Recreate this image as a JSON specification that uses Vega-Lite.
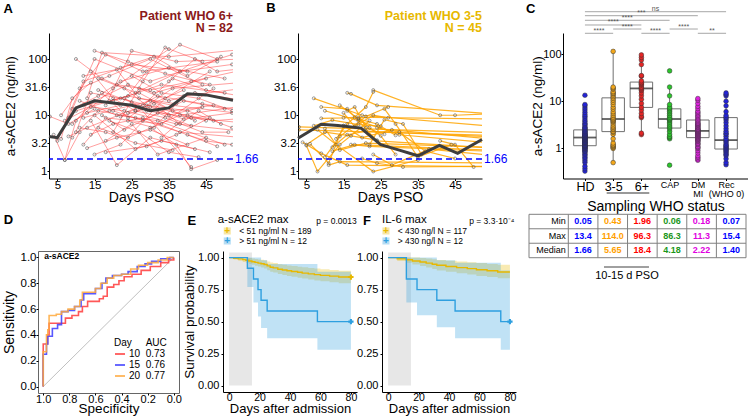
{
"$schema":"https://vega.github.io/schema/vega-lite/v6.json",
"background":"white",
"padding":{"left":1,"top":2,"right":4,"bottom":2},
"config":{"font":"Liberation Sans","view":{"stroke":null},
 "axis":{"grid":false,"domainColor":"#000","tickColor":"#000","labelColor":"#000","titleColor":"#000","titleFontWeight":"normal","labelFontSize":11.5,"titleFontSize":14,"tickSize":2,"labelPadding":0,"labelOverlap":false,"labelFlush":false,"labelFont":"Liberation Sans","titleFont":"Liberation Sans"},
 "legend":{"labelFont":"Liberation Sans","titleFont":"Liberation Sans"}},
"datasets":{
"a_pts":[
{"p":1,"d":5,"v":3.5},{"p":1,"d":12,"v":40},{"p":1,"d":25,"v":80},{"p":1,"d":40,"v":60},
{"p":2,"d":7,"v":1.6},{"p":2,"d":10,"v":8},{"p":2,"d":20,"v":30},{"p":2,"d":35,"v":150},
{"p":3,"d":8,"v":9},{"p":3,"d":15,"v":100},{"p":3,"d":30,"v":40},{"p":3,"d":52,"v":120},
{"p":4,"d":10,"v":5},{"p":4,"d":14,"v":25},{"p":4,"d":22,"v":20},{"p":4,"d":45,"v":8},
{"p":5,"d":6,"v":10},{"p":5,"d":18,"v":120},{"p":5,"d":28,"v":60},{"p":5,"d":48,"v":90},
{"p":6,"d":12,"v":15},{"p":6,"d":20,"v":18},{"p":6,"d":33,"v":35},{"p":6,"d":50,"v":25},
{"p":7,"d":9,"v":4},{"p":7,"d":16,"v":12},{"p":7,"d":26,"v":9},{"p":7,"d":38,"v":5},{"p":7,"d":55,"v":4},
{"p":8,"d":11,"v":30},{"p":8,"d":19,"v":50},{"p":8,"d":30,"v":100},{"p":8,"d":44,"v":35},
{"p":9,"d":13,"v":20},{"p":9,"d":17,"v":130},{"p":9,"d":35,"v":110},{"p":9,"d":56,"v":150},
{"p":10,"d":14,"v":8},{"p":10,"d":21,"v":1.3},{"p":10,"d":30,"v":4},{"p":10,"d":42,"v":2.5},
{"p":11,"d":15,"v":2},{"p":11,"d":22,"v":3},{"p":11,"d":34,"v":20},{"p":11,"d":46,"v":60},
{"p":12,"d":10,"v":12},{"p":12,"d":24,"v":22},{"p":12,"d":36,"v":15},{"p":12,"d":58,"v":10},
{"p":13,"d":8,"v":4.2},{"p":13,"d":13,"v":6},{"p":13,"d":27,"v":14},{"p":13,"d":41,"v":1.2},
{"p":14,"d":16,"v":45},{"p":14,"d":23,"v":30},{"p":14,"d":29,"v":15},{"p":14,"d":40,"v":12},{"p":14,"d":52,"v":6},
{"p":15,"d":12,"v":3},{"p":15,"d":18,"v":9},{"p":15,"d":33,"v":7},{"p":15,"d":47,"v":30},
{"p":16,"d":18,"v":15},{"p":16,"d":25,"v":140},{"p":16,"d":37,"v":90},{"p":16,"d":55,"v":100},
{"p":17,"d":14,"v":60},{"p":17,"d":20,"v":20},{"p":17,"d":26,"v":12},{"p":17,"d":39,"v":28},
{"p":18,"d":19,"v":8},{"p":18,"d":27,"v":5},{"p":18,"d":35,"v":2.2},{"p":18,"d":43,"v":1.8},
{"p":19,"d":9,"v":7},{"p":19,"d":15,"v":18},{"p":19,"d":24,"v":35},{"p":19,"d":31,"v":25},{"p":19,"d":45,"v":45},
{"p":20,"d":11,"v":18},{"p":20,"d":21,"v":10},{"p":20,"d":32,"v":8},{"p":20,"d":50,"v":3},
{"p":21,"d":13,"v":11},{"p":21,"d":22,"v":15},{"p":21,"d":29,"v":60},{"p":21,"d":38,"v":180},{"p":21,"d":48,"v":100},
{"p":22,"d":17,"v":25},{"p":22,"d":24,"v":9},{"p":22,"d":36,"v":30},{"p":22,"d":58,"v":40},
{"p":23,"d":20,"v":5},{"p":23,"d":28,"v":40},{"p":23,"d":34,"v":160},{"p":23,"d":44,"v":90},
{"p":24,"d":7,"v":8},{"p":24,"d":14,"v":14},{"p":24,"d":23,"v":12},{"p":24,"d":37,"v":7},{"p":24,"d":57,"v":5},
{"p":25,"d":15,"v":10},{"p":25,"d":26,"v":2.5},{"p":25,"d":33,"v":3.5},{"p":25,"d":46,"v":2.2},
{"p":26,"d":21,"v":35},{"p":26,"d":30,"v":28},{"p":26,"d":41,"v":40},{"p":26,"d":53,"v":60},
{"p":27,"d":22,"v":70},{"p":27,"d":31,"v":110},{"p":27,"d":40,"v":50},{"p":27,"d":49,"v":110},
{"p":28,"d":16,"v":6},{"p":28,"d":24,"v":4},{"p":28,"d":38,"v":10},{"p":28,"d":56,"v":15},
{"p":29,"d":12,"v":9},{"p":29,"d":19,"v":12},{"p":29,"d":30,"v":18},{"p":29,"d":42,"v":8},
{"p":30,"d":18,"v":3.5},{"p":30,"d":25,"v":7},{"p":30,"d":32,"v":2},{"p":30,"d":45,"v":4},
{"p":31,"d":23,"v":20},{"p":31,"d":29,"v":12},{"p":31,"d":41,"v":9},{"p":31,"d":58,"v":7},
{"p":32,"d":14,"v":4.5},{"p":32,"d":20,"v":7},{"p":32,"d":28,"v":9},{"p":32,"d":48,"v":2.8},
{"p":33,"d":25,"v":50},{"p":33,"d":33,"v":25},{"p":33,"d":43,"v":20},{"p":33,"d":52,"v":12},
{"p":34,"d":10,"v":100},{"p":34,"d":17,"v":45},{"p":34,"d":26,"v":25},{"p":34,"d":38,"v":60},{"p":34,"d":52,"v":80},
{"p":35,"d":19,"v":18},{"p":35,"d":27,"v":25},{"p":35,"d":36,"v":12},{"p":35,"d":47,"v":15},
{"p":36,"d":24,"v":8},{"p":36,"d":31,"v":6},{"p":36,"d":39,"v":22},{"p":36,"d":55,"v":30},
{"p":37,"d":26,"v":12},{"p":37,"d":34,"v":9},{"p":37,"d":44,"v":5},{"p":37,"d":51,"v":5},
{"p":38,"d":13,"v":2.6},{"p":38,"d":21,"v":4},{"p":38,"d":30,"v":5.5},{"p":38,"d":40,"v":3},
{"p":39,"d":28,"v":15},{"p":39,"d":36,"v":45},{"p":39,"d":45,"v":28},{"p":39,"d":58,"v":20},
{"p":40,"d":30,"v":6},{"p":40,"d":37,"v":3},{"p":40,"d":41,"v":1.1},{"p":40,"d":48,"v":1.6},
{"p":41,"d":17,"v":10},{"p":41,"d":23,"v":5.5},{"p":41,"d":32,"v":11},{"p":41,"d":41,"v":6.5},
{"p":42,"d":9,"v":13},{"p":42,"d":16,"v":22},{"p":42,"d":22,"v":40},{"p":42,"d":35,"v":70},{"p":42,"d":50,"v":45},
{"p":43,"d":20,"v":12},{"p":43,"d":28,"v":8},{"p":43,"d":39,"v":18},{"p":43,"d":50,"v":13},
{"p":44,"d":27,"v":30},{"p":44,"d":35,"v":18},{"p":44,"d":42,"v":25},{"p":44,"d":56,"v":18},
{"p":45,"d":33,"v":4},{"p":45,"d":40,"v":10},{"p":45,"d":47,"v":8},{"p":45,"d":57,"v":9},
{"p":46,"d":15,"v":140},{"p":46,"d":24,"v":90},{"p":46,"d":34,"v":55},{"p":46,"d":46,"v":35},
{"p":47,"d":11,"v":6},{"p":47,"d":18,"v":5},{"p":47,"d":26,"v":3.2},{"p":47,"d":36,"v":2.4},
{"p":48,"d":22,"v":9.5},{"p":48,"d":30,"v":14},{"p":48,"d":39,"v":8.5},{"p":48,"d":52,"v":11},
{"p":49,"d":31,"v":16},{"p":49,"d":38,"v":7},{"p":49,"d":43,"v":12},{"p":49,"d":49,"v":7},
{"p":50,"d":16,"v":28},{"p":50,"d":25,"v":17},{"p":50,"d":35,"v":10},{"p":50,"d":44,"v":14},
{"p":51,"d":35,"v":40},{"p":51,"d":42,"v":100},{"p":51,"d":48,"v":60},{"p":51,"d":57,"v":70},
{"p":52,"d":40,"v":4.5},{"p":52,"d":45,"v":3.5},{"p":52,"d":52,"v":3},
{"p":53,"d":12,"v":50},{"p":53,"d":21,"v":65},{"p":53,"d":27,"v":20},{"p":53,"d":37,"v":16},
{"p":54,"d":18,"v":2.2},{"p":54,"d":29,"v":2.8},{"p":54,"d":37,"v":4.5},{"p":54,"d":46,"v":9},
{"p":55,"d":24,"v":11},{"p":55,"d":32,"v":22},{"p":55,"d":44,"v":16},{"p":55,"d":55,"v":12},
{"p":56,"d":3,"v":9.5},{"p":56,"d":8,"v":7},{"p":56,"d":15,"v":13},
{"p":57,"d":4,"v":4.5},{"p":57,"d":7,"v":1.6},{"p":57,"d":11,"v":5},
{"p":58,"d":6,"v":3.8},{"p":58,"d":9,"v":20},{"p":58,"d":14,"v":38}
],
"a_med":[{"d":2.75,"v":4.2},{"d":5,"v":4.0},{"d":10,"v":13.5},{"d":15,"v":18},{"d":20,"v":16.5},{"d":25,"v":15},{"d":30,"v":12},{"d":35,"v":13.5},{"d":40,"v":24},{"d":45,"v":23},{"d":52.25,"v":18.5}],
"b_pts":[
{"p":1,"d":3,"v":5.5},{"p":1,"d":60,"v":4.3},
{"p":2,"d":3,"v":6.2},{"p":2,"d":60,"v":4.8},
{"p":3,"d":7,"v":20},{"p":3,"d":20,"v":10},{"p":3,"d":60,"v":6},
{"p":4,"d":9,"v":14},{"p":4,"d":16,"v":13},{"p":4,"d":24,"v":3.5},{"p":4,"d":60,"v":2.5},
{"p":5,"d":10,"v":12},{"p":5,"d":19,"v":8},{"p":5,"d":30,"v":4.5},{"p":5,"d":60,"v":3},
{"p":6,"d":4,"v":3.3},{"p":6,"d":9,"v":2.1},{"p":6,"d":16,"v":1.3},{"p":6,"d":60,"v":1.2},
{"p":7,"d":5,"v":2.9},{"p":7,"d":8,"v":1.0},{"p":7,"d":14,"v":3},{"p":7,"d":22,"v":8},
{"p":8,"d":6,"v":3.1},{"p":8,"d":11,"v":1.4},{"p":8,"d":15,"v":6.5},
{"p":9,"d":8,"v":5.5},{"p":9,"d":13,"v":3},{"p":9,"d":23,"v":1.0},{"p":9,"d":35,"v":1.6},
{"p":10,"d":10,"v":1.8},{"p":10,"d":14,"v":4.2},{"p":10,"d":21,"v":9.5},{"p":10,"d":27,"v":14},
{"p":11,"d":12,"v":2.3},{"p":11,"d":18,"v":3},{"p":11,"d":60,"v":2.3},
{"p":12,"d":9,"v":8.8},{"p":12,"d":15,"v":9},{"p":12,"d":18,"v":9.2},{"p":12,"d":60,"v":8.5},
{"p":13,"d":16,"v":25},{"p":13,"d":17,"v":24},{"p":13,"d":24,"v":15},{"p":13,"d":60,"v":10},
{"p":14,"d":15,"v":6.5},{"p":14,"d":20,"v":4},{"p":14,"d":28,"v":5.5},{"p":14,"d":60,"v":3.5},
{"p":15,"d":14,"v":15},{"p":15,"d":19,"v":8.6},{"p":15,"d":24,"v":7},{"p":15,"d":29,"v":4.4},
{"p":16,"d":13,"v":3.8},{"p":16,"d":16,"v":7},{"p":16,"d":21,"v":14},{"p":16,"d":23,"v":26},
{"p":17,"d":11,"v":1.3},{"p":17,"d":14,"v":1.5},{"p":17,"d":60,"v":1.4},
{"p":18,"d":16,"v":12},{"p":18,"d":18,"v":14},{"p":18,"d":21,"v":6},{"p":18,"d":26,"v":4.6},
{"p":19,"d":19,"v":9},{"p":19,"d":22,"v":6},{"p":19,"d":25,"v":4.3},{"p":19,"d":29,"v":2},
{"p":20,"d":22,"v":3},{"p":20,"d":26,"v":8.3},{"p":20,"d":31,"v":7},{"p":20,"d":36,"v":2},
{"p":21,"d":23,"v":2},{"p":21,"d":28,"v":1.3},{"p":21,"d":38,"v":2.5},{"p":21,"d":60,"v":1.8},
{"p":22,"d":20,"v":1.7},{"p":22,"d":24,"v":1.4},{"p":22,"d":31,"v":1.2},{"p":22,"d":60,"v":1.25},
{"p":23,"d":17,"v":3},{"p":23,"d":22,"v":2.8},{"p":23,"d":60,"v":2.2},
{"p":24,"d":12,"v":2.7},{"p":24,"d":16,"v":4.5},{"p":24,"d":21,"v":5.2},{"p":24,"d":60,"v":4},
{"p":25,"d":15,"v":11},{"p":25,"d":18,"v":6.3},{"p":25,"d":23,"v":10},{"p":25,"d":27,"v":9},
{"p":26,"d":23,"v":28},{"p":26,"d":41,"v":10},{"p":26,"d":45,"v":10},{"p":26,"d":60,"v":11},
{"p":27,"d":5,"v":3},{"p":27,"d":10,"v":5},{"p":27,"d":17,"v":4.3},{"p":27,"d":24,"v":3.6},
{"p":28,"d":7,"v":6.5},{"p":28,"d":12,"v":8.2},{"p":28,"d":19,"v":6.8},{"p":28,"d":25,"v":6.4},
{"p":29,"d":24,"v":6},{"p":29,"d":30,"v":5},{"p":29,"d":37,"v":2.3},{"p":29,"d":45,"v":1.7},
{"p":30,"d":10,"v":5.8},{"p":30,"d":14,"v":2.4},{"p":30,"d":21,"v":3.2},{"p":30,"d":60,"v":2.6},
{"p":31,"d":41,"v":3.5},{"p":31,"d":45,"v":3},{"p":31,"d":50,"v":1.2},
{"p":32,"d":26,"v":13},{"p":32,"d":29,"v":7},{"p":32,"d":35,"v":1.8},{"p":32,"d":44,"v":3}
],
"b_med":[{"d":2.75,"v":3.9},{"d":9,"v":6.9},{"d":13.5,"v":6.6},{"d":19.7,"v":5.9},{"d":25,"v":3.0},{"d":30,"v":2.4},{"d":35,"v":1.9},{"d":40.8,"v":2.9},{"d":45.7,"v":2.1},{"d":52.25,"v":3.7}],
"c_box":[{"g":"HD","gi":0,"lw":0.33,"q1":1.14,"med":1.7,"q3":2.47,"uw":8.5},{"g":"3-5","gi":1,"lw":0.5,"q1":2.27,"med":4.2,"q3":11.8,"uw":114},{"g":"6+","gi":2,"lw":1.96,"q1":7.4,"med":18.7,"q3":25.5,"uw":96},{"g":"CAP","gi":3,"lw":1.6,"q1":2.7,"med":4.2,"q3":6.9,"uw":20},{"g":"DM","gi":4,"lw":0.56,"q1":1.69,"med":2.35,"q3":4.0,"uw":11.4},{"g":"Rec","gi":5,"lw":0.45,"q1":0.97,"med":1.5,"q3":4.5,"uw":15}],
"c_br":[{"a":0,"b":5,"m":2.5,"lv":792,"t":"ns"},{"a":0,"b":4,"m":2,"lv":652,"t":"***"},{"a":0,"b":3,"m":1.5,"lv":521,"t":"****"},{"a":0,"b":2,"m":1,"lv":414,"t":"****"},{"a":1,"b":2,"m":1.5,"lv":340,"t":"****"},{"a":3,"b":4,"m":3.5,"lv":340,"t":"****"},{"a":0,"b":1,"m":0.5,"lv":276,"t":"****"},{"a":2,"b":3,"m":2.5,"lv":276,"t":"****"},{"a":4,"b":5,"m":4.5,"lv":276,"t":"**"}],
"c_pts":[
{"g":"HD","gi":0,"v":0.33,"j":-0.2},{"g":"HD","gi":0,"v":0.37,"j":0.25},{"g":"HD","gi":0,"v":0.42,"j":-0.35},{"g":"HD","gi":0,"v":0.5,"j":0.1},{"g":"HD","gi":0,"v":0.55,"j":0.38},{"g":"HD","gi":0,"v":0.6,"j":-0.1},{"g":"HD","gi":0,"v":0.65,"j":0.2},{"g":"HD","gi":0,"v":0.7,"j":-0.3},{"g":"HD","gi":0,"v":0.75,"j":0.42},{"g":"HD","gi":0,"v":0.8,"j":0.0},{"g":"HD","gi":0,"v":0.85,"j":-0.42},{"g":"HD","gi":0,"v":0.88,"j":0.3},{"g":"HD","gi":0,"v":0.9,"j":0.15},{"g":"HD","gi":0,"v":0.95,"j":-0.25},{"g":"HD","gi":0,"v":0.98,"j":0.35},{"g":"HD","gi":0,"v":1.0,"j":-0.05},{"g":"HD","gi":0,"v":1.02,"j":0.22},{"g":"HD","gi":0,"v":1.05,"j":-0.38},{"g":"HD","gi":0,"v":1.08,"j":0.08},{"g":"HD","gi":0,"v":1.1,"j":0.4},{"g":"HD","gi":0,"v":1.12,"j":-0.18},{"g":"HD","gi":0,"v":1.15,"j":0.28},{"g":"HD","gi":0,"v":1.15,"j":-0.3},{"g":"HD","gi":0,"v":1.18,"j":0.02},{"g":"HD","gi":0,"v":1.2,"j":0.33},{"g":"HD","gi":0,"v":1.25,"j":-0.12},{"g":"HD","gi":0,"v":1.28,"j":0.18},{"g":"HD","gi":0,"v":1.3,"j":-0.44},{"g":"HD","gi":0,"v":1.33,"j":0.12},{"g":"HD","gi":0,"v":1.35,"j":0.4},{"g":"HD","gi":0,"v":1.38,"j":-0.22},{"g":"HD","gi":0,"v":1.4,"j":0.05},{"g":"HD","gi":0,"v":1.45,"j":-0.34},{"g":"HD","gi":0,"v":1.48,"j":0.26},{"g":"HD","gi":0,"v":1.5,"j":-0.08},{"g":"HD","gi":0,"v":1.55,"j":0.36},{"g":"HD","gi":0,"v":1.58,"j":-0.28},{"g":"HD","gi":0,"v":1.6,"j":0.14},{"g":"HD","gi":0,"v":1.62,"j":-0.4},{"g":"HD","gi":0,"v":1.66,"j":0.3},{"g":"HD","gi":0,"v":1.7,"j":-0.15},{"g":"HD","gi":0,"v":1.72,"j":0.04},{"g":"HD","gi":0,"v":1.75,"j":0.43},{"g":"HD","gi":0,"v":1.8,"j":-0.26},{"g":"HD","gi":0,"v":1.82,"j":0.2},{"g":"HD","gi":0,"v":1.85,"j":-0.06},{"g":"HD","gi":0,"v":1.9,"j":0.34},{"g":"HD","gi":0,"v":1.92,"j":-0.36},{"g":"HD","gi":0,"v":1.95,"j":0.1},{"g":"HD","gi":0,"v":2.0,"j":-0.2},{"g":"HD","gi":0,"v":2.05,"j":0.27},{"g":"HD","gi":0,"v":2.1,"j":-0.42},{"g":"HD","gi":0,"v":2.2,"j":0.16},{"g":"HD","gi":0,"v":2.25,"j":-0.1},{"g":"HD","gi":0,"v":2.3,"j":0.38},{"g":"HD","gi":0,"v":2.4,"j":-0.3},{"g":"HD","gi":0,"v":2.5,"j":0.06},{"g":"HD","gi":0,"v":2.6,"j":0.3},{"g":"HD","gi":0,"v":2.7,"j":-0.16},{"g":"HD","gi":0,"v":2.8,"j":0.22},{"g":"HD","gi":0,"v":3.0,"j":-0.38},{"g":"HD","gi":0,"v":3.2,"j":0.12},{"g":"HD","gi":0,"v":3.4,"j":-0.02},{"g":"HD","gi":0,"v":3.7,"j":0.35},{"g":"HD","gi":0,"v":4.0,"j":-0.24},{"g":"HD","gi":0,"v":4.4,"j":0.18},{"g":"HD","gi":0,"v":4.8,"j":-0.4},{"g":"HD","gi":0,"v":5.2,"j":0.02},{"g":"HD","gi":0,"v":5.8,"j":0.3},{"g":"HD","gi":0,"v":6.5,"j":-0.2},{"g":"HD","gi":0,"v":7.2,"j":0.1},{"g":"HD","gi":0,"v":8.0,"j":-0.33},{"g":"HD","gi":0,"v":8.5,"j":0.25},{"g":"HD","gi":0,"v":13.4,"j":0.3},
{"g":"3-5","gi":1,"v":0.5,"j":-0.05},{"g":"3-5","gi":1,"v":1.0,"j":0.25},{"g":"3-5","gi":1,"v":1.05,"j":0.3},{"g":"3-5","gi":1,"v":1.1,"j":0.1},{"g":"3-5","gi":1,"v":1.15,"j":-0.2},{"g":"3-5","gi":1,"v":1.2,"j":0.28},{"g":"3-5","gi":1,"v":1.3,"j":-0.1},{"g":"3-5","gi":1,"v":1.6,"j":0.15},{"g":"3-5","gi":1,"v":2.0,"j":-0.28},{"g":"3-5","gi":1,"v":2.2,"j":0.05},{"g":"3-5","gi":1,"v":2.3,"j":0.2},{"g":"3-5","gi":1,"v":2.5,"j":-0.15},{"g":"3-5","gi":1,"v":2.6,"j":0.3},{"g":"3-5","gi":1,"v":2.8,"j":-0.05},{"g":"3-5","gi":1,"v":3.0,"j":0.12},{"g":"3-5","gi":1,"v":3.3,"j":-0.25},{"g":"3-5","gi":1,"v":3.6,"j":0.22},{"g":"3-5","gi":1,"v":3.8,"j":-0.12},{"g":"3-5","gi":1,"v":3.9,"j":0.05},{"g":"3-5","gi":1,"v":4.1,"j":-0.3},{"g":"3-5","gi":1,"v":4.3,"j":0.18},{"g":"3-5","gi":1,"v":4.6,"j":-0.05},{"g":"3-5","gi":1,"v":5.0,"j":0.28},{"g":"3-5","gi":1,"v":5.5,"j":-0.22},{"g":"3-5","gi":1,"v":6.0,"j":0.1},{"g":"3-5","gi":1,"v":6.8,"j":-0.15},{"g":"3-5","gi":1,"v":7.5,"j":0.3},{"g":"3-5","gi":1,"v":8.5,"j":-0.3},{"g":"3-5","gi":1,"v":9.5,"j":0.08},{"g":"3-5","gi":1,"v":10.5,"j":-0.12},{"g":"3-5","gi":1,"v":11.5,"j":0.25},{"g":"3-5","gi":1,"v":12.5,"j":-0.25},{"g":"3-5","gi":1,"v":13.5,"j":0.02},{"g":"3-5","gi":1,"v":14.5,"j":0.2},{"g":"3-5","gi":1,"v":15,"j":-0.18},{"g":"3-5","gi":1,"v":16,"j":0.12},{"g":"3-5","gi":1,"v":18,"j":-0.08},{"g":"3-5","gi":1,"v":19,"j":0.22},{"g":"3-5","gi":1,"v":20,"j":-0.28},{"g":"3-5","gi":1,"v":114,"j":0.2},
{"g":"6+","gi":2,"v":1.96,"j":-0.05},{"g":"6+","gi":2,"v":2.1,"j":-0.1},{"g":"6+","gi":2,"v":4.5,"j":-0.25},{"g":"6+","gi":2,"v":4.8,"j":0.05},{"g":"6+","gi":2,"v":5.5,"j":0.22},{"g":"6+","gi":2,"v":6.5,"j":-0.15},{"g":"6+","gi":2,"v":7.5,"j":0.28},{"g":"6+","gi":2,"v":9,"j":-0.2},{"g":"6+","gi":2,"v":11,"j":0.15},{"g":"6+","gi":2,"v":13,"j":-0.3},{"g":"6+","gi":2,"v":15,"j":0.1},{"g":"6+","gi":2,"v":17,"j":-0.08},{"g":"6+","gi":2,"v":18,"j":0.25},{"g":"6+","gi":2,"v":19,"j":-0.22},{"g":"6+","gi":2,"v":20,"j":0.05},{"g":"6+","gi":2,"v":22,"j":0.3},{"g":"6+","gi":2,"v":23,"j":-0.12},{"g":"6+","gi":2,"v":24,"j":0.15},{"g":"6+","gi":2,"v":25,"j":-0.28},{"g":"6+","gi":2,"v":27,"j":0.2},{"g":"6+","gi":2,"v":34,"j":0.08},{"g":"6+","gi":2,"v":35,"j":0.18},{"g":"6+","gi":2,"v":60,"j":0.25},{"g":"6+","gi":2,"v":75,"j":-0.2},{"g":"6+","gi":2,"v":85,"j":-0.28},{"g":"6+","gi":2,"v":96,"j":-0.1},
{"g":"CAP","gi":3,"v":0.44,"j":-0.05},{"g":"CAP","gi":3,"v":1.6,"j":-0.25},{"g":"CAP","gi":3,"v":1.7,"j":0.2},{"g":"CAP","gi":3,"v":1.8,"j":-0.1},{"g":"CAP","gi":3,"v":2.0,"j":0.28},{"g":"CAP","gi":3,"v":2.3,"j":-0.2},{"g":"CAP","gi":3,"v":2.6,"j":0.1},{"g":"CAP","gi":3,"v":2.8,"j":-0.3},{"g":"CAP","gi":3,"v":3.0,"j":0.15},{"g":"CAP","gi":3,"v":3.3,"j":-0.05},{"g":"CAP","gi":3,"v":3.6,"j":0.25},{"g":"CAP","gi":3,"v":3.9,"j":-0.18},{"g":"CAP","gi":3,"v":4.1,"j":0.05},{"g":"CAP","gi":3,"v":4.3,"j":-0.28},{"g":"CAP","gi":3,"v":4.6,"j":0.2},{"g":"CAP","gi":3,"v":5.0,"j":-0.1},{"g":"CAP","gi":3,"v":5.5,"j":0.3},{"g":"CAP","gi":3,"v":6.0,"j":-0.22},{"g":"CAP","gi":3,"v":6.5,"j":0.12},{"g":"CAP","gi":3,"v":7.0,"j":-0.05},{"g":"CAP","gi":3,"v":7.5,"j":0.25},{"g":"CAP","gi":3,"v":8.5,"j":-0.15},{"g":"CAP","gi":3,"v":13,"j":0.1},{"g":"CAP","gi":3,"v":20,"j":-0.2},{"g":"CAP","gi":3,"v":44,"j":-0.1},
{"g":"DM","gi":4,"v":0.56,"j":-0.1},{"g":"DM","gi":4,"v":0.6,"j":0.2},{"g":"DM","gi":4,"v":0.65,"j":0.1},{"g":"DM","gi":4,"v":0.7,"j":-0.25},{"g":"DM","gi":4,"v":0.8,"j":0.05},{"g":"DM","gi":4,"v":0.9,"j":0.3},{"g":"DM","gi":4,"v":1.0,"j":-0.15},{"g":"DM","gi":4,"v":1.05,"j":-0.02},{"g":"DM","gi":4,"v":1.1,"j":0.12},{"g":"DM","gi":4,"v":1.2,"j":-0.3},{"g":"DM","gi":4,"v":1.25,"j":0.0},{"g":"DM","gi":4,"v":1.3,"j":0.25},{"g":"DM","gi":4,"v":1.4,"j":-0.05},{"g":"DM","gi":4,"v":1.45,"j":-0.32},{"g":"DM","gi":4,"v":1.5,"j":0.18},{"g":"DM","gi":4,"v":1.55,"j":-0.22},{"g":"DM","gi":4,"v":1.6,"j":0.08},{"g":"DM","gi":4,"v":1.65,"j":0.3},{"g":"DM","gi":4,"v":1.7,"j":-0.12},{"g":"DM","gi":4,"v":1.75,"j":0.02},{"g":"DM","gi":4,"v":1.8,"j":-0.28},{"g":"DM","gi":4,"v":1.85,"j":0.22},{"g":"DM","gi":4,"v":1.9,"j":-0.08},{"g":"DM","gi":4,"v":1.95,"j":0.14},{"g":"DM","gi":4,"v":2.0,"j":-0.2},{"g":"DM","gi":4,"v":2.05,"j":0.28},{"g":"DM","gi":4,"v":2.1,"j":-0.02},{"g":"DM","gi":4,"v":2.15,"j":0.1},{"g":"DM","gi":4,"v":2.2,"j":-0.3},{"g":"DM","gi":4,"v":2.25,"j":0.2},{"g":"DM","gi":4,"v":2.3,"j":-0.14},{"g":"DM","gi":4,"v":2.35,"j":0.04},{"g":"DM","gi":4,"v":2.4,"j":0.3},{"g":"DM","gi":4,"v":2.45,"j":-0.24},{"g":"DM","gi":4,"v":2.5,"j":0.12},{"g":"DM","gi":4,"v":2.55,"j":0.32},{"g":"DM","gi":4,"v":2.6,"j":-0.08},{"g":"DM","gi":4,"v":2.7,"j":0.24},{"g":"DM","gi":4,"v":2.8,"j":-0.3},{"g":"DM","gi":4,"v":2.9,"j":0.06},{"g":"DM","gi":4,"v":3.0,"j":-0.16},{"g":"DM","gi":4,"v":3.1,"j":0.18},{"g":"DM","gi":4,"v":3.2,"j":-0.04},{"g":"DM","gi":4,"v":3.3,"j":0.3},{"g":"DM","gi":4,"v":3.4,"j":0.0},{"g":"DM","gi":4,"v":3.5,"j":-0.22},{"g":"DM","gi":4,"v":3.7,"j":0.1},{"g":"DM","gi":4,"v":3.9,"j":-0.1},{"g":"DM","gi":4,"v":4.1,"j":0.26},{"g":"DM","gi":4,"v":4.4,"j":-0.28},{"g":"DM","gi":4,"v":4.7,"j":0.0},{"g":"DM","gi":4,"v":5.0,"j":0.2},{"g":"DM","gi":4,"v":5.4,"j":-0.18},{"g":"DM","gi":4,"v":5.8,"j":0.12},{"g":"DM","gi":4,"v":6.2,"j":-0.06},{"g":"DM","gi":4,"v":7.0,"j":0.28},{"g":"DM","gi":4,"v":7.8,"j":-0.24},{"g":"DM","gi":4,"v":9.0,"j":0.1},{"g":"DM","gi":4,"v":10.5,"j":-0.1},{"g":"DM","gi":4,"v":11.4,"j":0.05},
{"g":"Rec","gi":5,"v":0.45,"j":-0.05},{"g":"Rec","gi":5,"v":0.5,"j":0.15},{"g":"Rec","gi":5,"v":0.6,"j":-0.2},{"g":"Rec","gi":5,"v":0.7,"j":0.25},{"g":"Rec","gi":5,"v":0.75,"j":0.0},{"g":"Rec","gi":5,"v":0.8,"j":-0.12},{"g":"Rec","gi":5,"v":0.85,"j":0.05},{"g":"Rec","gi":5,"v":0.9,"j":-0.28},{"g":"Rec","gi":5,"v":0.95,"j":0.2},{"g":"Rec","gi":5,"v":1.0,"j":-0.05},{"g":"Rec","gi":5,"v":1.05,"j":0.3},{"g":"Rec","gi":5,"v":1.1,"j":-0.18},{"g":"Rec","gi":5,"v":1.15,"j":0.3},{"g":"Rec","gi":5,"v":1.2,"j":0.1},{"g":"Rec","gi":5,"v":1.3,"j":-0.3},{"g":"Rec","gi":5,"v":1.4,"j":0.22},{"g":"Rec","gi":5,"v":1.5,"j":-0.08},{"g":"Rec","gi":5,"v":1.6,"j":0.15},{"g":"Rec","gi":5,"v":1.8,"j":-0.22},{"g":"Rec","gi":5,"v":2.0,"j":0.05},{"g":"Rec","gi":5,"v":2.1,"j":-0.3},{"g":"Rec","gi":5,"v":2.3,"j":0.28},{"g":"Rec","gi":5,"v":2.6,"j":-0.15},{"g":"Rec","gi":5,"v":3.0,"j":0.12},{"g":"Rec","gi":5,"v":3.5,"j":-0.28},{"g":"Rec","gi":5,"v":4.0,"j":0.2},{"g":"Rec","gi":5,"v":4.4,"j":-0.1},{"g":"Rec","gi":5,"v":4.6,"j":0.3},{"g":"Rec","gi":5,"v":5.0,"j":-0.2},{"g":"Rec","gi":5,"v":6.0,"j":0.08},{"g":"Rec","gi":5,"v":8.0,"j":-0.25},{"g":"Rec","gi":5,"v":10,"j":0.22},{"g":"Rec","gi":5,"v":13,"j":-0.15},{"g":"Rec","gi":5,"v":14,"j":0.1},{"g":"Rec","gi":5,"v":15,"j":0.25}
],
"roc":[
{"day":"10","spec":1,"sens":0},{"day":"10","spec":0.967,"sens":0.33},{"day":"10","spec":0.955,"sens":0.40},{"day":"10","spec":0.83,"sens":0.49},{"day":"10","spec":0.78,"sens":0.53},{"day":"10","spec":0.73,"sens":0.55},{"day":"10","spec":0.70,"sens":0.58},{"day":"10","spec":0.66,"sens":0.62},{"day":"10","spec":0.57,"sens":0.66},{"day":"10","spec":0.54,"sens":0.68},{"day":"10","spec":0.51,"sens":0.70},{"day":"10","spec":0.46,"sens":0.77},{"day":"10","spec":0.42,"sens":0.79},{"day":"10","spec":0.38,"sens":0.82},{"day":"10","spec":0.32,"sens":0.85},{"day":"10","spec":0.25,"sens":0.87},{"day":"10","spec":0.18,"sens":0.90},{"day":"10","spec":0.10,"sens":0.93},{"day":"10","spec":0.04,"sens":0.96},{"day":"10","spec":0,"sens":0.98},{"day":"10","spec":0,"sens":1},
{"day":"15","spec":1,"sens":0},{"day":"15","spec":0.975,"sens":0.25},{"day":"15","spec":0.965,"sens":0.33},{"day":"15","spec":0.93,"sens":0.39},{"day":"15","spec":0.89,"sens":0.45},{"day":"15","spec":0.86,"sens":0.48},{"day":"15","spec":0.81,"sens":0.58},{"day":"15","spec":0.76,"sens":0.59},{"day":"15","spec":0.71,"sens":0.62},{"day":"15","spec":0.69,"sens":0.67},{"day":"15","spec":0.60,"sens":0.72},{"day":"15","spec":0.55,"sens":0.76},{"day":"15","spec":0.52,"sens":0.80},{"day":"15","spec":0.47,"sens":0.84},{"day":"15","spec":0.40,"sens":0.86},{"day":"15","spec":0.35,"sens":0.87},{"day":"15","spec":0.28,"sens":0.89},{"day":"15","spec":0.22,"sens":0.93},{"day":"15","spec":0.17,"sens":0.95},{"day":"15","spec":0.10,"sens":0.97},{"day":"15","spec":0.03,"sens":0.99},{"day":"15","spec":0,"sens":1},
{"day":"20","spec":1,"sens":0},{"day":"20","spec":0.975,"sens":0.27},{"day":"20","spec":0.965,"sens":0.40},{"day":"20","spec":0.955,"sens":0.44},{"day":"20","spec":0.90,"sens":0.55},{"day":"20","spec":0.86,"sens":0.56},{"day":"20","spec":0.81,"sens":0.58},{"day":"20","spec":0.76,"sens":0.60},{"day":"20","spec":0.72,"sens":0.62},{"day":"20","spec":0.70,"sens":0.67},{"day":"20","spec":0.60,"sens":0.73},{"day":"20","spec":0.56,"sens":0.76},{"day":"20","spec":0.51,"sens":0.80},{"day":"20","spec":0.46,"sens":0.84},{"day":"20","spec":0.40,"sens":0.86},{"day":"20","spec":0.33,"sens":0.87},{"day":"20","spec":0.27,"sens":0.91},{"day":"20","spec":0.20,"sens":0.94},{"day":"20","spec":0.12,"sens":0.96},{"day":"20","spec":0.05,"sens":0.98},{"day":"20","spec":0,"sens":1}
],
"e_y":[{"d":0,"s":1,"lo":1,"hi":1},{"d":3,"s":0.995,"lo":0.985,"hi":1},{"d":6,"s":0.99,"lo":0.976,"hi":1},{"d":9,"s":0.984,"lo":0.966,"hi":1},{"d":11,"s":0.979,"lo":0.959,"hi":0.998},{"d":13,"s":0.974,"lo":0.952,"hi":0.996},{"d":15,"s":0.968,"lo":0.944,"hi":0.993},{"d":17,"s":0.963,"lo":0.937,"hi":0.99},{"d":19,"s":0.957,"lo":0.93,"hi":0.986},{"d":21,"s":0.952,"lo":0.922,"hi":0.983},{"d":23,"s":0.946,"lo":0.915,"hi":0.979},{"d":25,"s":0.935,"lo":0.902,"hi":0.97},{"d":27,"s":0.925,"lo":0.89,"hi":0.962},{"d":29,"s":0.92,"lo":0.884,"hi":0.958},{"d":32,"s":0.909,"lo":0.871,"hi":0.949},{"d":35,"s":0.903,"lo":0.864,"hi":0.944},{"d":38,"s":0.897,"lo":0.857,"hi":0.939},{"d":41,"s":0.891,"lo":0.85,"hi":0.934},{"d":45,"s":0.885,"lo":0.843,"hi":0.929},{"d":48,"s":0.879,"lo":0.836,"hi":0.924},{"d":52,"s":0.873,"lo":0.829,"hi":0.919},{"d":56,"s":0.867,"lo":0.822,"hi":0.914},{"d":60,"s":0.861,"lo":0.815,"hi":0.909},{"d":66,"s":0.855,"lo":0.808,"hi":0.904},{"d":72,"s":0.848,"lo":0.8,"hi":0.898},{"d":80,"s":0.848,"lo":0.8,"hi":0.898}],
"e_b":[{"d":0,"s":1,"lo":1,"hi":1},{"d":12,"s":0.917,"lo":0.77,"hi":1},{"d":16,"s":0.833,"lo":0.65,"hi":1},{"d":19,"s":0.75,"lo":0.54,"hi":1},{"d":21,"s":0.667,"lo":0.45,"hi":0.98},{"d":25,"s":0.583,"lo":0.37,"hi":0.95},{"d":58,"s":0.5,"lo":0.28,"hi":0.89},{"d":80,"s":0.5,"lo":0.28,"hi":0.89}],
"f_y":[{"d":0,"s":1,"lo":1,"hi":1},{"d":6,"s":0.991,"lo":0.974,"hi":1},{"d":12,"s":0.983,"lo":0.96,"hi":1},{"d":16,"s":0.974,"lo":0.946,"hi":1},{"d":21,"s":0.966,"lo":0.934,"hi":0.997},{"d":25,"s":0.957,"lo":0.922,"hi":0.993},{"d":29,"s":0.948,"lo":0.91,"hi":0.987},{"d":32,"s":0.94,"lo":0.9,"hi":0.982},{"d":38,"s":0.931,"lo":0.889,"hi":0.976},{"d":45,"s":0.922,"lo":0.878,"hi":0.97},{"d":52,"s":0.914,"lo":0.868,"hi":0.963},{"d":58,"s":0.905,"lo":0.857,"hi":0.957},{"d":65,"s":0.897,"lo":0.848,"hi":0.95},{"d":72,"s":0.888,"lo":0.838,"hi":0.944},{"d":80,"s":0.888,"lo":0.838,"hi":0.944}],
"f_b":[{"d":0,"s":1,"lo":1,"hi":1},{"d":12,"s":0.833,"lo":0.65,"hi":1},{"d":19,"s":0.75,"lo":0.55,"hi":1},{"d":32,"s":0.667,"lo":0.455,"hi":0.98},{"d":44,"s":0.583,"lo":0.37,"hi":0.96},{"d":74,"s":0.5,"lo":0.28,"hi":0.9},{"d":80,"s":0.5,"lo":0.28,"hi":0.9}],
"tbl":[{"r":0,"c":0,"t":"0.05","g":"HD"},{"r":0,"c":1,"t":"0.43","g":"3-5"},{"r":0,"c":2,"t":"1.96","g":"6+"},{"r":0,"c":3,"t":"0.06","g":"CAP"},{"r":0,"c":4,"t":"0.18","g":"DM"},{"r":0,"c":5,"t":"0.07","g":"Rec"},
{"r":1,"c":0,"t":"13.4","g":"HD"},{"r":1,"c":1,"t":"114.0","g":"3-5"},{"r":1,"c":2,"t":"96.3","g":"6+"},{"r":1,"c":3,"t":"86.3","g":"CAP"},{"r":1,"c":4,"t":"11.3","g":"DM"},{"r":1,"c":5,"t":"15.4","g":"Rec"},
{"r":2,"c":0,"t":"1.66","g":"HD"},{"r":2,"c":1,"t":"5.65","g":"3-5"},{"r":2,"c":2,"t":"18.4","g":"6+"},{"r":2,"c":3,"t":"4.18","g":"CAP"},{"r":2,"c":4,"t":"2.22","g":"DM"},{"r":2,"c":5,"t":"1.40","g":"Rec"}],
"tbl_rows":[{"r":0,"lab":"Min"},{"r":1,"lab":"Max"},{"r":2,"lab":"Median"}],
"tv":[{"xv":-1.327},{"xv":0},{"xv":1},{"xv":2},{"xv":3},{"xv":4},{"xv":5},{"xv":6}],
"th":[{"yv":0},{"yv":1},{"yv":2},{"yv":3}]
},
"spacing":0,
"resolve":{"scale":{"color":"independent"},"legend":{"color":"independent"}},
"vconcat":[
{"bounds":"flush","spacing":0,"hconcat":[
 {"width":11,"height":178,"data":{"values":[]},"mark":{"type":"point","opacity":0}},
 {"width":184,"height":145.5,"layer":[
  {"data":{"name":"a_pts"},"mark":{"type":"line","color":"#FF2A2A","strokeWidth":1,"opacity":0.45,"clip":true},
   "encoding":{"x":{"field":"d","type":"quantitative","scale":{"domain":[2.75,52.25],"nice":false,"zero":false},"axis":{"values":[5,15,25,35,45],"tickCount":20,"title":"Days PSO","labelPadding":-1,"titlePadding":-0.5,"labelOverlap":false}},
    "y":{"field":"v","type":"quantitative","scale":{"type":"log","domain":[0.75,290],"nice":false},"axis":{"values":[1,3.2,10,31.6,100],"tickCount":20,"format":"~g","title":"a-sACE2 (ng/ml)","titleFontSize":13.5,"titlePadding":7,"labelOverlap":false}},
    "detail":{"field":"p","type":"nominal"}}},
  {"data":{"name":"a_pts"},"mark":{"type":"point","filled":false,"size":9,"stroke":"#4D4D4D","strokeWidth":0.6,"opacity":0.9,"clip":true},
   "encoding":{"x":{"field":"d","type":"quantitative"},"y":{"field":"v","type":"quantitative"}}},
  {"data":{"name":"a_med"},"mark":{"type":"line","color":"#3D3D3D","strokeWidth":3},"encoding":{"x":{"field":"d","type":"quantitative"},"y":{"field":"v","type":"quantitative"}}},
  {"data":{"values":[{}]},"mark":{"type":"rule","color":"#0000FF","strokeDash":[6,4],"strokeWidth":1.5},"encoding":{"y":{"datum":1.66}}},
  {"data":{"values":[{}]},"mark":{"type":"text","text":"1.66","color":"#0000FF","fontSize":12,"align":"left","baseline":"middle","dx":2},"encoding":{"x":{"datum":52.25},"y":{"datum":1.66}}},
  {"data":{"values":[{}]},"mark":{"type":"text","text":"A","fontSize":13,"fontWeight":"bold","align":"center","baseline":"middle"},"encoding":{"x":{"datum":-8.23},"y":{"datum":765}}},
  {"data":{"values":[{}]},"mark":{"type":"text","text":"Patient WHO 6+","fontSize":12.5,"fontWeight":"bold","color":"#8B1A1A","align":"right","baseline":"middle"},"encoding":{"x":{"datum":52.25},"y":{"datum":582}}},
  {"data":{"values":[{}]},"mark":{"type":"text","text":"N = 82","fontSize":12.5,"fontWeight":"bold","color":"#8B1A1A","align":"right","baseline":"middle"},"encoding":{"x":{"datum":52.25},"y":{"datum":360}}}
 ]},
 {"width":65,"height":1,"data":{"values":[]},"mark":{"type":"point","opacity":0}},
 {"width":184,"height":145.5,"layer":[
  {"data":{"name":"b_pts"},"mark":{"type":"line","color":"#FFA500","strokeWidth":1.2,"opacity":0.85,"clip":true},
   "encoding":{"x":{"field":"d","type":"quantitative","scale":{"domain":[2.75,52.25],"nice":false,"zero":false},"axis":{"values":[5,15,25,35,45],"tickCount":20,"title":"Days PSO","labelPadding":-1,"titlePadding":-0.5,"labelOverlap":false}},
    "y":{"field":"v","type":"quantitative","scale":{"type":"log","domain":[0.75,290],"nice":false},"axis":{"values":[1,3.2,10,31.6,100],"tickCount":20,"format":"~g","title":null,"labelOverlap":false}},
    "detail":{"field":"p","type":"nominal"}}},
  {"data":{"name":"b_pts"},"mark":{"type":"point","filled":false,"size":9,"stroke":"#4D4D4D","strokeWidth":0.6,"opacity":0.9,"clip":true},
   "encoding":{"x":{"field":"d","type":"quantitative"},"y":{"field":"v","type":"quantitative"}}},
  {"data":{"name":"b_med"},"mark":{"type":"line","color":"#3D3D3D","strokeWidth":3},"encoding":{"x":{"field":"d","type":"quantitative"},"y":{"field":"v","type":"quantitative"}}},
  {"data":{"values":[{}]},"mark":{"type":"rule","color":"#0000FF","strokeDash":[6,4],"strokeWidth":1.5},"encoding":{"y":{"datum":1.66}}},
  {"data":{"values":[{}]},"mark":{"type":"text","text":"1.66","color":"#0000FF","fontSize":12,"align":"left","baseline":"middle","dx":2},"encoding":{"x":{"datum":52.25},"y":{"datum":1.66}}},
  {"data":{"values":[{}]},"mark":{"type":"text","text":"B","fontSize":13,"fontWeight":"bold","align":"center","baseline":"middle"},"encoding":{"x":{"datum":-4.51},"y":{"datum":791}}},
  {"data":{"values":[{}]},"mark":{"type":"text","text":"Patient WHO 3-5","fontSize":12.5,"fontWeight":"bold","color":"#E7B800","align":"right","baseline":"middle"},"encoding":{"x":{"datum":52.25},"y":{"datum":582}}},
  {"data":{"values":[{}]},"mark":{"type":"text","text":"N = 45","fontSize":12.5,"fontWeight":"bold","color":"#E7B800","align":"right","baseline":"middle"},"encoding":{"x":{"datum":52.25},"y":{"datum":360}}}
 ]},
 {"width":81,"height":1,"data":{"values":[]},"mark":{"type":"point","opacity":0}},
 {"width":185,"height":145.5,"layer":[
  {"data":{"name":"c_br"},"mark":{"type":"rule","color":"#A6A6A6","strokeWidth":1},
   "encoding":{"x":{"field":"a","type":"quantitative","scale":{"domain":[-0.6,5.6],"nice":false,"zero":false},
     "axis":{"values":[0,1,2,3,4,5],"tickCount":20,"labelOverlap":false,"labelExpr":"datum.value==0?'HD':datum.value==1?'3-5':datum.value==2?'6+':datum.value==3?'CAP':datum.value==4?['DM','MI']:['Rec','(WHO 0)']","labelFontSize":{"condition":{"test":"datum.value<=2","value":12.5},"value":9},"labelLineHeight":8.5,"title":"Sampling WHO status","titlePadding":1}},
    "x2":{"field":"b"},
    "y":{"field":"lv","type":"quantitative","scale":{"type":"log","domain":[0.23,280],"nice":false},"axis":{"values":[1,10,100],"tickCount":20,"format":"~g","title":"a-sACE2 (ng/ml)","titleFontSize":13.5,"titlePadding":-2,"labelFontSize":11,"labelOverlap":false}}}},
  {"data":{"name":"c_br"},"mark":{"type":"text","fontSize":7,"color":"#555555","baseline":"alphabetic","dy":-0.5},"encoding":{"x":{"field":"m","type":"quantitative"},"y":{"field":"lv","type":"quantitative"},"text":{"field":"t"}}},
  {"data":{"name":"c_box"},"mark":{"type":"rule","color":"#707070","strokeWidth":1},"encoding":{"x":{"field":"gi","type":"quantitative"},"y":{"field":"lw","type":"quantitative"},"y2":{"field":"uw"}}},
  {"data":{"name":"c_box"},"mark":{"type":"bar","orient":"vertical","width":22.5,"fill":"#FFFFFF","stroke":"#707070","strokeWidth":1},"encoding":{"x":{"field":"gi","type":"quantitative"},"y":{"field":"q1","type":"quantitative"},"y2":{"field":"q3"}}},
  {"data":{"name":"c_box"},"mark":{"type":"tick","orient":"horizontal","size":22.5,"thickness":1.8,"color":"#1A1A1A"},"encoding":{"x":{"field":"gi","type":"quantitative"},"y":{"field":"med","type":"quantitative"}}},
  {"data":{"name":"c_pts"},"mark":{"type":"point","filled":true,"size":22,"stroke":"#333333","strokeWidth":0.5,"opacity":1},
   "encoding":{"x":{"field":"gi","type":"quantitative"},"xOffset":{"field":"j","type":"quantitative","scale":{"domain":[-0.5,0.5],"range":[-14.9,14.9]}},"y":{"field":"v","type":"quantitative"},
    "color":{"field":"g","type":"nominal","scale":{"domain":["HD","3-5","6+","CAP","DM","Rec"],"range":["#2323D8","#F2A71B","#E32626","#2BC52B","#DD22DD","#2323D8"]},"legend":null}}},
  {"data":{"values":[{}]},"mark":{"type":"rule","color":"#999999","strokeWidth":2},"encoding":{"x":{"datum":0.77},"x2":{"datum":2.28},"y":{"datum":0.113}}},
  {"data":{"values":[{}]},"mark":{"type":"text","text":"C","fontSize":13,"fontWeight":"bold","align":"center","baseline":"middle"},"encoding":{"x":{"datum":-1.92},"y":{"datum":890}}}
 ]}
]},
{"bounds":"flush","spacing":0,
 "resolve":{"scale":{"color":"independent"},"legend":{"color":"independent"}},
 "hconcat":[
 {"width":141,"height":142,"view":{"stroke":"#666666","strokeWidth":1},"layer":[
  {"data":{"values":[{}]},"mark":{"type":"rule","color":"#B0B0B0","strokeWidth":0.8},"encoding":{"x":{"datum":1},"y":{"datum":0},"x2":{"datum":0},"y2":{"datum":1}}},
  {"data":{"name":"roc"},"mark":{"type":"line","interpolate":"step-before","strokeWidth":1.6,"opacity":0.85},
   "encoding":{"x":{"field":"spec","type":"quantitative","scale":{"domain":[-0.04,1.04],"reverse":true,"nice":false,"zero":false},"axis":{"values":[0,0.2,0.4,0.6,0.8,1],"tickCount":20,"format":".1f","title":"Specificity","domain":false,"labelFontSize":11,"titleFontSize":13.5,"labelPadding":-2,"titlePadding":-2.5,"labelOverlap":false}},
    "y":{"field":"sens","type":"quantitative","scale":{"domain":[-0.05,1.05],"nice":false,"zero":false},"axis":{"values":[0,0.2,0.4,0.6,0.8,1],"tickCount":20,"format":".1f","title":"Sensitivity","domain":false,"labelFontSize":11.5,"titlePadding":4,"labelOverlap":false}},
    "color":{"field":"day","type":"nominal","scale":{"domain":["10","15","20"],"range":["#FF3B3B","#3B3BFF","#FFA93B"]},
     "legend":{"title":"Day\u00a0\u00a0\u00a0\u00a0\u00a0AUC","orient":"bottom-right","offset":12,"padding":0,"titleFontSize":10,"titleFontWeight":"normal","titleColor":"#000","titlePadding":0,"labelFontSize":10,"labelColor":"#000","labelOffset":3,"symbolType":"stroke","symbolSize":100,"symbolStrokeWidth":1.8,"rowPadding":-3.5,
      "labelExpr":"datum.label=='10'?'10\u00a0\u00a00.73':datum.label=='15'?'15\u00a0\u00a00.76':'20\u00a0\u00a00.77'"}},
    "order":{"field":"sens","type":"quantitative"}}},
  {"data":{"values":[{}]},"mark":{"type":"text","text":"a-sACE2","fontSize":8.5,"fontWeight":"bold","align":"left","baseline":"middle"},"encoding":{"x":{"datum":0.992},"y":{"datum":1.011}}},
  {"data":{"values":[{}]},"mark":{"type":"text","text":"D","fontSize":13,"fontWeight":"bold","align":"center","baseline":"middle"},"encoding":{"x":{"datum":1.266},"y":{"datum":1.29}}}
 ]},
 {"width":44,"height":1,"data":{"values":[]},"mark":{"type":"point","opacity":0}},
 {"width":134,"height":141,"layer":[
  {"data":{"values":[{}]},"mark":{"type":"rect","color":"#D0D0D0","opacity":0.5},"encoding":{"x":{"datum":0},"x2":{"datum":15},"y":{"datum":0},"y2":{"datum":1.04}}},
  {"data":{"name":"e_y"},"mark":{"type":"area","interpolate":"step-after","color":"#E7B800","opacity":0.3},
   "encoding":{"x":{"field":"d","type":"quantitative","scale":{"domain":[-4,84],"nice":false,"zero":false},"axis":{"values":[0,20,40,60,80],"tickCount":20,"title":"Days after admission","labelFontSize":10.5,"titleFontSize":13,"labelPadding":-1.5,"titlePadding":-1,"labelOverlap":false}},
    "y":{"field":"lo","type":"quantitative","scale":{"domain":[-0.05,1.0516],"nice":false,"zero":false},"axis":{"values":[0,0.25,0.5,0.75,1],"tickCount":20,"format":".2f","title":"Survival probability","labelFontSize":11,"titleFontSize":13.5,"labelPadding":2,"titlePadding":1,"labelOverlap":false}},
    "y2":{"field":"hi"}}},
  {"data":{"name":"e_b"},"mark":{"type":"area","interpolate":"step-after","color":"#2E9FDF","opacity":0.3},"encoding":{"x":{"field":"d","type":"quantitative"},"y":{"field":"lo","type":"quantitative"},"y2":{"field":"hi"}}},
  {"data":{"name":"e_y"},"mark":{"type":"line","interpolate":"step-after","color":"#E7B800","strokeWidth":1.4},"encoding":{"x":{"field":"d","type":"quantitative"},"y":{"field":"s","type":"quantitative"}}},
  {"data":{"name":"e_b"},"mark":{"type":"line","interpolate":"step-after","color":"#2E9FDF","strokeWidth":1.4},"encoding":{"x":{"field":"d","type":"quantitative"},"y":{"field":"s","type":"quantitative"}}},
  {"data":{"name":"e_b"},"transform":[{"filter":"datum.d == 80"}],"mark":{"type":"point","shape":"cross","filled":true,"size":28,"color":"#2E9FDF","opacity":1},"encoding":{"x":{"field":"d","type":"quantitative"},"y":{"field":"s","type":"quantitative"}}},
  {"data":{"name":"e_y"},"transform":[{"filter":"datum.d == 80"}],"mark":{"type":"point","shape":"cross","filled":true,"size":28,"color":"#E7B800","opacity":1},"encoding":{"x":{"field":"d","type":"quantitative"},"y":{"field":"s","type":"quantitative"}}},
  {"data":{"values":[{}]},"mark":{"type":"text","text":"E","fontSize":13,"fontWeight":"bold","align":"center","baseline":"middle"},"encoding":{"x":{"datum":-24.4},"y":{"datum":1.286}}},
  {"data":{"values":[{}]},"mark":{"type":"text","text":"a-sACE2 max","fontSize":11.5,"align":"left","baseline":"middle"},"encoding":{"x":{"datum":-7.5},"y":{"datum":1.294}}},
  {"data":{"values":[{}]},"mark":{"type":"text","text":"p = 0.0013","fontSize":8.5,"align":"right","baseline":"middle"},"encoding":{"x":{"datum":83.8},"y":{"datum":1.286}}},
  {"data":{"values":[{}]},"mark":{"type":"point","shape":"square","filled":true,"size":50,"color":"#E7B800","opacity":0.35},"encoding":{"x":{"datum":-1.2},"y":{"datum":1.208}}},
  {"data":{"values":[{}]},"mark":{"type":"text","text":"+","fontSize":10,"fontWeight":"bold","color":"#E7B800","align":"center","baseline":"middle"},"encoding":{"x":{"datum":-1.2},"y":{"datum":1.208}}},
  {"data":{"values":[{}]},"mark":{"type":"text","text":"< 51 ng/ml N = 189","fontSize":8.5,"align":"left","baseline":"middle"},"encoding":{"x":{"datum":6.7},"y":{"datum":1.208}}},
  {"data":{"values":[{}]},"mark":{"type":"point","shape":"square","filled":true,"size":50,"color":"#2E9FDF","opacity":0.35},"encoding":{"x":{"datum":-1.2},"y":{"datum":1.13}}},
  {"data":{"values":[{}]},"mark":{"type":"text","text":"+","fontSize":10,"fontWeight":"bold","color":"#2E9FDF","align":"center","baseline":"middle"},"encoding":{"x":{"datum":-1.2},"y":{"datum":1.13}}},
  {"data":{"values":[{}]},"mark":{"type":"text","text":"> 51 ng/ml N = 12","fontSize":8.5,"align":"left","baseline":"middle"},"encoding":{"x":{"datum":6.7},"y":{"datum":1.13}}}
 ]},
 {"width":25,"height":1,"data":{"values":[]},"mark":{"type":"point","opacity":0}},
 {"width":134,"height":141,"layer":[
  {"data":{"values":[{}]},"mark":{"type":"rect","color":"#D0D0D0","opacity":0.5},"encoding":{"x":{"datum":0},"x2":{"datum":15},"y":{"datum":0},"y2":{"datum":1.04}}},
  {"data":{"name":"f_y"},"mark":{"type":"area","interpolate":"step-after","color":"#E7B800","opacity":0.3},
   "encoding":{"x":{"field":"d","type":"quantitative","scale":{"domain":[-4,84],"nice":false,"zero":false},"axis":{"values":[0,20,40,60,80],"tickCount":20,"title":"Days after admission","labelFontSize":10.5,"titleFontSize":13,"labelPadding":-1.5,"titlePadding":-1,"labelOverlap":false}},
    "y":{"field":"lo","type":"quantitative","scale":{"domain":[-0.05,1.0516],"nice":false,"zero":false},"axis":{"values":[0,0.25,0.5,0.75,1],"tickCount":20,"format":".2f","title":null,"labelFontSize":11,"labelPadding":2,"labelOverlap":false}},
    "y2":{"field":"hi"}}},
  {"data":{"name":"f_b"},"mark":{"type":"area","interpolate":"step-after","color":"#2E9FDF","opacity":0.3},"encoding":{"x":{"field":"d","type":"quantitative"},"y":{"field":"lo","type":"quantitative"},"y2":{"field":"hi"}}},
  {"data":{"name":"f_y"},"mark":{"type":"line","interpolate":"step-after","color":"#E7B800","strokeWidth":1.4},"encoding":{"x":{"field":"d","type":"quantitative"},"y":{"field":"s","type":"quantitative"}}},
  {"data":{"name":"f_b"},"mark":{"type":"line","interpolate":"step-after","color":"#2E9FDF","strokeWidth":1.4},"encoding":{"x":{"field":"d","type":"quantitative"},"y":{"field":"s","type":"quantitative"}}},
  {"data":{"name":"f_b"},"transform":[{"filter":"datum.d == 80"}],"mark":{"type":"point","shape":"cross","filled":true,"size":28,"color":"#2E9FDF","opacity":1},"encoding":{"x":{"field":"d","type":"quantitative"},"y":{"field":"s","type":"quantitative"}}},
  {"data":{"values":[{}]},"mark":{"type":"text","text":"F","fontSize":13,"fontWeight":"bold","align":"center","baseline":"middle"},"encoding":{"x":{"datum":-13.85},"y":{"datum":1.286}}},
  {"data":{"values":[{}]},"mark":{"type":"text","text":"IL-6 max","fontSize":11.5,"align":"left","baseline":"middle"},"encoding":{"x":{"datum":-4},"y":{"datum":1.294}}},
  {"data":{"values":[{}]},"mark":{"type":"text","text":"p = 3.3·10⁻⁴","fontSize":8.5,"align":"right","baseline":"middle"},"encoding":{"x":{"datum":82.9},"y":{"datum":1.286}}},
  {"data":{"values":[{}]},"mark":{"type":"point","shape":"square","filled":true,"size":50,"color":"#E7B800","opacity":0.35},"encoding":{"x":{"datum":-1.4},"y":{"datum":1.208}}},
  {"data":{"values":[{}]},"mark":{"type":"text","text":"+","fontSize":10,"fontWeight":"bold","color":"#E7B800","align":"center","baseline":"middle"},"encoding":{"x":{"datum":-1.4},"y":{"datum":1.208}}},
  {"data":{"values":[{}]},"mark":{"type":"text","text":"< 430 ng/l N = 117","fontSize":8.5,"align":"left","baseline":"middle"},"encoding":{"x":{"datum":6.3},"y":{"datum":1.208}}},
  {"data":{"values":[{}]},"mark":{"type":"point","shape":"square","filled":true,"size":50,"color":"#2E9FDF","opacity":0.35},"encoding":{"x":{"datum":-1.4},"y":{"datum":1.13}}},
  {"data":{"values":[{}]},"mark":{"type":"text","text":"+","fontSize":10,"fontWeight":"bold","color":"#2E9FDF","align":"center","baseline":"middle"},"encoding":{"x":{"datum":-1.4},"y":{"datum":1.13}}},
  {"data":{"values":[{}]},"mark":{"type":"text","text":"> 430 ng/l N = 12","fontSize":8.5,"align":"left","baseline":"middle"},"encoding":{"x":{"datum":6.3},"y":{"datum":1.13}}}
 ]},
 {"width":13,"height":1,"data":{"values":[]},"mark":{"type":"point","opacity":0}},
 {"width":217,"height":30,"layer":[
  {"data":{"name":"tv"},"mark":{"type":"rule","color":"#808080","strokeWidth":1},
   "encoding":{"x":{"field":"xv","type":"quantitative","scale":{"domain":[-1.327,6],"nice":false,"zero":false},"axis":null},
    "y":{"datum":0,"type":"quantitative","scale":{"domain":[2.536,4.609],"reverse":true,"nice":false,"zero":false},"axis":null},"y2":{"datum":3}}},
  {"data":{"name":"th"},"mark":{"type":"rule","color":"#808080","strokeWidth":1},"encoding":{"y":{"field":"yv","type":"quantitative"},"x":{"datum":-1.327},"x2":{"datum":6}}},
  {"data":{"name":"tbl_rows"},"mark":{"type":"text","fontSize":9,"align":"right","baseline":"middle","dx":-2.5,"dy":7.2,"color":"#000"},"encoding":{"x":{"datum":0},"y":{"field":"r","type":"quantitative"},"text":{"field":"lab"}}},
  {"data":{"name":"tbl"},"mark":{"type":"text","fontSize":9,"fontWeight":"bold","align":"center","baseline":"middle","dx":14.8,"dy":7.2},
   "encoding":{"x":{"field":"c","type":"quantitative"},"y":{"field":"r","type":"quantitative"},"text":{"field":"t"},
    "color":{"field":"g","type":"nominal","scale":{"domain":["HD","3-5","6+","CAP","DM","Rec"],"range":["#0000FF","#FFA000","#FF0000","#1A961A","#E000E0","#0000FF"]},"legend":null}}},
  {"data":{"values":[{}]},"mark":{"type":"rule","color":"#A0A0A0","strokeWidth":2},"encoding":{"x":{"datum":1.205},"x2":{"datum":2.724},"y":{"datum":3.64}}},
  {"data":{"values":[{}]},"mark":{"type":"text","text":"10-15 d PSO","fontSize":11,"align":"center","baseline":"middle"},"encoding":{"x":{"datum":1.98},"y":{"datum":4.26}}}
 ]}
]}
]
}
